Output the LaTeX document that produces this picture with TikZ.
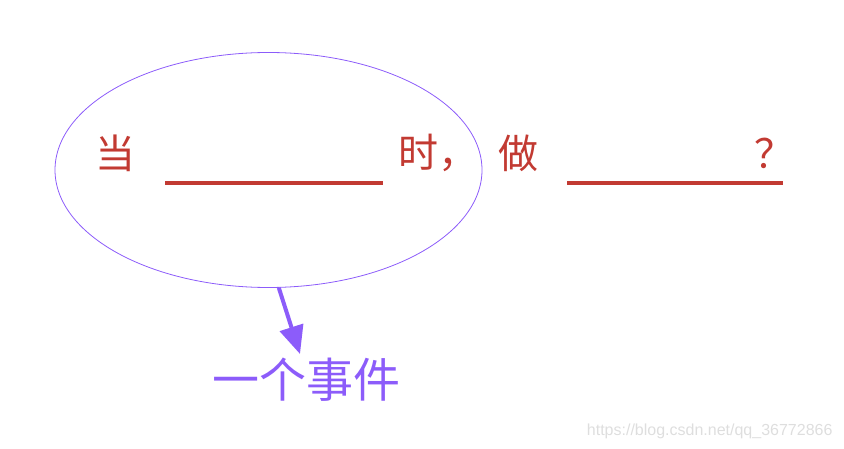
\documentclass[tikz,border=0pt]{standalone}
\usepackage{fontspec}
\newfontfamily\cjk{Noto Sans CJK SC}
\setsansfont{Liberation Sans}
\usetikzlibrary{arrows.meta,shapes.geometric}
\definecolor{wred}{RGB}{194,58,50}
\definecolor{wpurple}{RGB}{140,92,250}
\begin{document}
\begin{tikzpicture}[x=1pt,y=-1pt,
    word/.style={text=wred,font=\cjk\fontsize{40}{40}\selectfont,inner sep=0pt},
    blank/.style={wred,line width=4pt},
    event/.style={text=wpurple,font=\cjk\fontsize{47}{47}\selectfont,inner sep=0pt}]
  \useasboundingbox (0,0) rectangle (844,449);
  \node[draw=wpurple,line width=0.8pt,ellipse,minimum width=427,minimum height=235] (cond) at (268.5,170) {};
  \node[word] (dang) at (115,153) {当};
  \draw[blank] (165,183) -- (383,183);
  \node[word,anchor=west] (shi) at (398,153) {时，};
  \node[word] (zuo) at (518,153) {做};
  \draw[blank] (567,183) -- (783,183);
  \node[word] (wen) at (774,153) {？};
  \node[event] (evt) at (306,380) {一个事件};
  \coordinate (tip) at (300,354);
  \draw[wpurple,line width=4pt,-{Triangle[length=28pt,width=24pt]}] (cond.-85) -- (tip);
  \node[text=black!13,font=\sffamily\fontsize{16}{16}\selectfont,anchor=east] (mark) at (836,431) {https://blog.csdn.net/qq\_36772866};
\end{tikzpicture}
\end{document}
